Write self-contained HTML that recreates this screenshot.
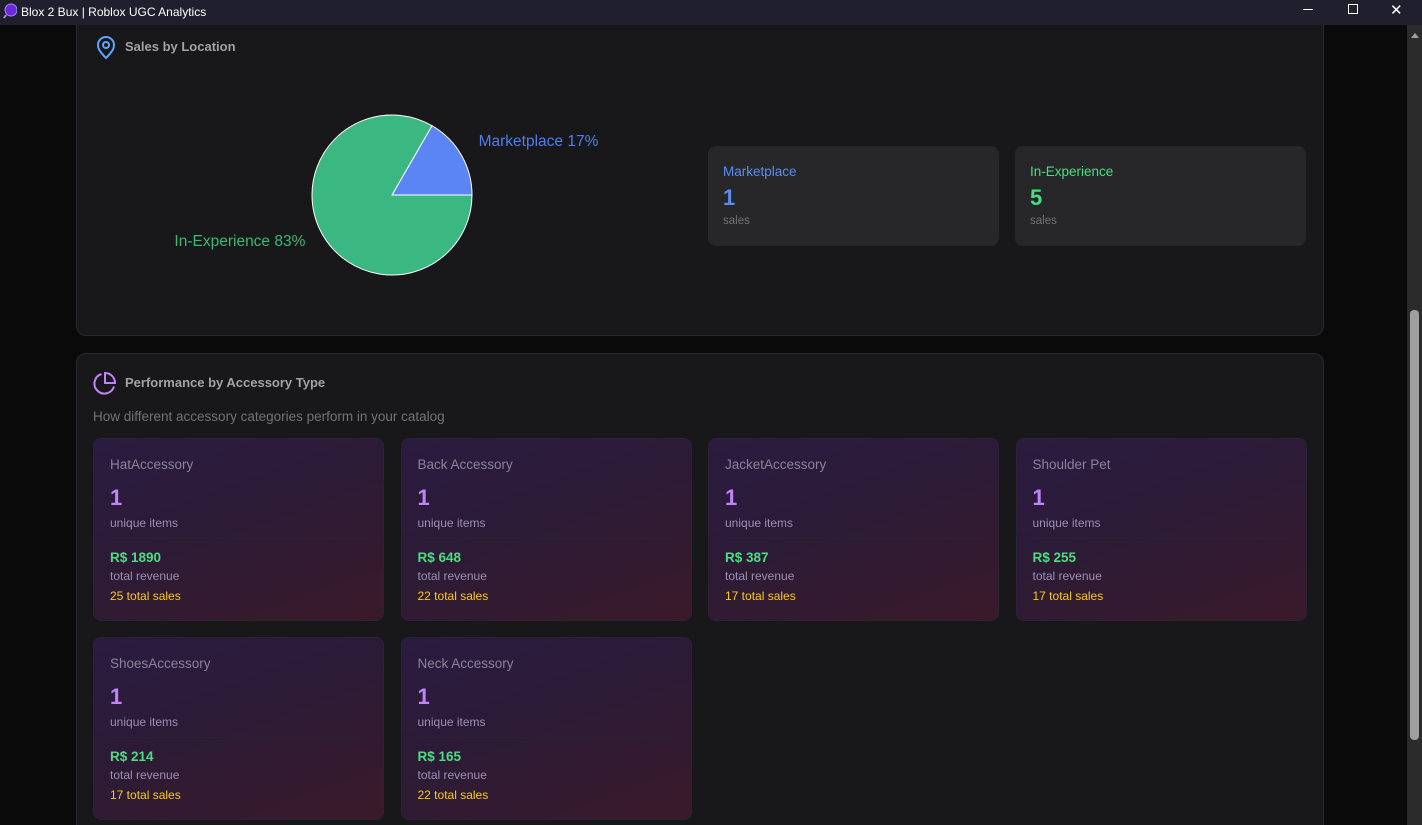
<!DOCTYPE html>
<html style="overflow:hidden;height:825px"><head><meta charset="utf-8">
<style>
*{box-sizing:border-box;margin:0;padding:0}
body{width:1422px;height:825px;overflow:hidden;background:#0a0a0a;font-family:"Liberation Sans","DejaVu Sans",sans-serif;position:relative}
.titlebar{position:absolute;left:0;top:0;width:1422px;height:25px;background:#1f1f2e;color:#fff;font-size:12px;z-index:10}
.titlebar .t{position:absolute;left:21px;top:5px}
.panel{position:absolute;left:76px;width:1248px;background:#18181b;border:1px solid #2a2a2e;border-radius:10px}
.ph{position:absolute;left:48px;font-size:13px;font-weight:bold;color:#a1a1aa}
.stat{position:absolute;top:145px;width:291px;height:100px;background:#27272a;border-radius:8px}
.stat .l{position:absolute;left:15px;top:18px;font-size:13.5px}
.stat .v{position:absolute;left:15px;top:39px;font-size:22px;font-weight:bold}
.stat .s{position:absolute;left:15px;top:69px;font-size:11.5px;color:#71717a}
.card{position:absolute;width:291px;height:183px;border-radius:8px;border:1px solid #2b2238;background:linear-gradient(160deg,#2a1b40 0%,#2d1b35 50%,#3a1a2a 100%)}
.card .n{position:absolute;left:16px;top:18px;font-size:13.5px;color:#8b8397}
.card .c{position:absolute;left:16px;top:46px;font-size:22px;font-weight:bold;color:#c084fc}
.card .u{position:absolute;left:16px;top:77px;font-size:12px;color:#9d8fb5}
.card .d{position:absolute;left:16px;right:16px;top:99px;border-top:1px solid #2a2232}
.card .r{position:absolute;left:16px;top:111px;font-size:13.5px;font-weight:bold;color:#4ade80}
.card .tr{position:absolute;left:16px;top:130px;font-size:12px;color:#9d8fb5}
.card .ts{position:absolute;left:16px;top:150px;font-size:12px;color:#facc15}
</style></head><body>
<div class="titlebar">
<svg style="position:absolute;left:3px;top:3px" width="14" height="16"><circle cx="8" cy="7" r="6" fill="#6d28d9" stroke="#a78bfa"/><line x1="3" y1="12" x2="1" y2="15" stroke="#a78bfa" stroke-width="2"/></svg>
<span class="t">Blox 2 Bux | Roblox UGC Analytics</span>
<div style="position:absolute;left:1303px;top:9px;width:10px;border-top:1px solid #fff"></div>
<div style="position:absolute;left:1348px;top:4px;width:10px;height:10px;border:1px solid #fff"></div>
<div style="position:absolute;left:1390px;top:1px;color:#fff;font-size:15px">✕</div>
</div>
<div style="position:absolute;left:1407px;top:25px;width:15px;height:800px;background:#2b2b2b">
<div style="position:absolute;left:4px;top:8px;width:0;height:0;border-left:4px solid transparent;border-right:4px solid transparent;border-bottom:5px solid #a0a0a0"></div>
<div style="position:absolute;left:3px;top:285px;width:9px;height:430px;background:#9f9f9f;border-radius:4px"></div>
</div>

<div class="panel" style="top:-20px;height:356px">
<svg style="position:absolute;left:18px;top:55px" width="22" height="24" viewBox="0 0 22 24"><path d="M11 22 C4 15 3 12 3 9 A8 8 0 0 1 19 9 C19 12 18 15 11 22Z" fill="none" stroke="#60a5fa" stroke-width="2"/><circle cx="11" cy="9" r="3" fill="none" stroke="#60a5fa" stroke-width="2"/></svg>
<div class="ph" style="top:58px">Sales by Location</div>
<div class="stat" style="left:631px;top:165px"><div class="l" style="color:#5b8def">Marketplace</div><div class="v" style="color:#5b8def" id="mv">1</div><div class="s">sales</div></div>
<div class="stat" style="left:938px;top:165px"><div class="l" style="color:#4ade80">In-Experience</div><div class="v" style="color:#4ade80" id="iv">5</div><div class="s">sales</div></div>
</div>
<svg id="pie" style="position:absolute;left:0;top:0" width="700" height="336"></svg>

<div class="panel" style="top:353px;height:500px">
<svg style="position:absolute;left:16px;top:17px" width="24" height="24" viewBox="0 0 24 24"><path d="M21 15.5 A10 10 0 1 1 8.5 3" fill="none" stroke="#c084fc" stroke-width="2"/><path d="M22 12 A10 10 0 0 0 12 2 V12Z" fill="none" stroke="#c084fc" stroke-width="2"/></svg>
<div class="ph" style="top:21px">Performance by Accessory Type</div>
<div style="position:absolute;left:16px;top:55px;font-size:13.5px;color:#71717a">How different accessory categories perform in your catalog</div>
</div>
<div id="cards"></div>

<script>
const locLabels=["Marketplace","In-Experience"];
const locValues=[1,5];
const locColors=["#5b84f5","#3bb882"];
const catNames=["HatAccessory","Back Accessory","JacketAccessory","Shoulder Pet","ShoesAccessory","Neck Accessory"];
const catItems=[1,1,1,1,1,1];
const catRevenue=[1890,648,387,255,214,165];
const catSales=[25,22,17,17,17,22];

const NS="http://www.w3.org/2000/svg";
const svg=document.getElementById('pie');
const cx=392,cy=195,R=80;
const total=locValues.reduce((a,b)=>a+b,0);
let ang=0;
locValues.forEach((v,i)=>{
  const a0=ang,a1=ang-v/total*2*Math.PI;ang=a1;
  const x0=cx+R*Math.cos(a0),y0=cy+R*Math.sin(a0),x1=cx+R*Math.cos(a1),y1=cy+R*Math.sin(a1);
  const large=(a0-a1)>Math.PI?1:0;
  const p=document.createElementNS(NS,'path');
  p.setAttribute('d',`M${cx},${cy} L${x0},${y0} A${R},${R} 0 ${large} 0 ${x1},${y1} Z`);
  p.setAttribute('fill',locColors[i]);p.setAttribute('stroke','#fff');p.setAttribute('stroke-width','1');
  
  
  svg.appendChild(p);
  const mid=(a0+a1)/2;
  const lx=cx+(R+20)*Math.cos(mid),ly=cy+(R+20)*Math.sin(mid);
  const t=document.createElementNS(NS,'text');
  t.setAttribute('x',lx);t.setAttribute('y',ly+1);
  t.setAttribute('text-anchor',Math.cos(mid)>=0?'start':'end');
  t.setAttribute('fill',i==0?'#4f7cf0':'#3bb872');t.setAttribute('font-size','15.5');
  t.setAttribute('font-family','Liberation Sans, sans-serif');
  t.textContent=locLabels[i]+' '+Math.round(v/total*100)+'%';
  
  
  svg.appendChild(t);
});
document.getElementById('mv').textContent=locValues[0];
document.getElementById('iv').textContent=locValues[1];

const cont=document.getElementById('cards');
catNames.forEach((n,i)=>{
  const d=document.createElement('div');
  d.className='card';
  d.style.left=(93+(i%4)*307.5)+'px';
  d.style.top=(438+Math.floor(i/4)*199)+'px';
  
  
  d.innerHTML=`<div class="n">${n}</div><div class="c">${catItems[i]}</div><div class="u">unique items</div><div class="d"></div><div class="r">R$ ${catRevenue[i]}</div><div class="tr">total revenue</div><div class="ts">${catSales[i]} total sales</div>`;
  cont.appendChild(d);
});
</script>
</body></html>
